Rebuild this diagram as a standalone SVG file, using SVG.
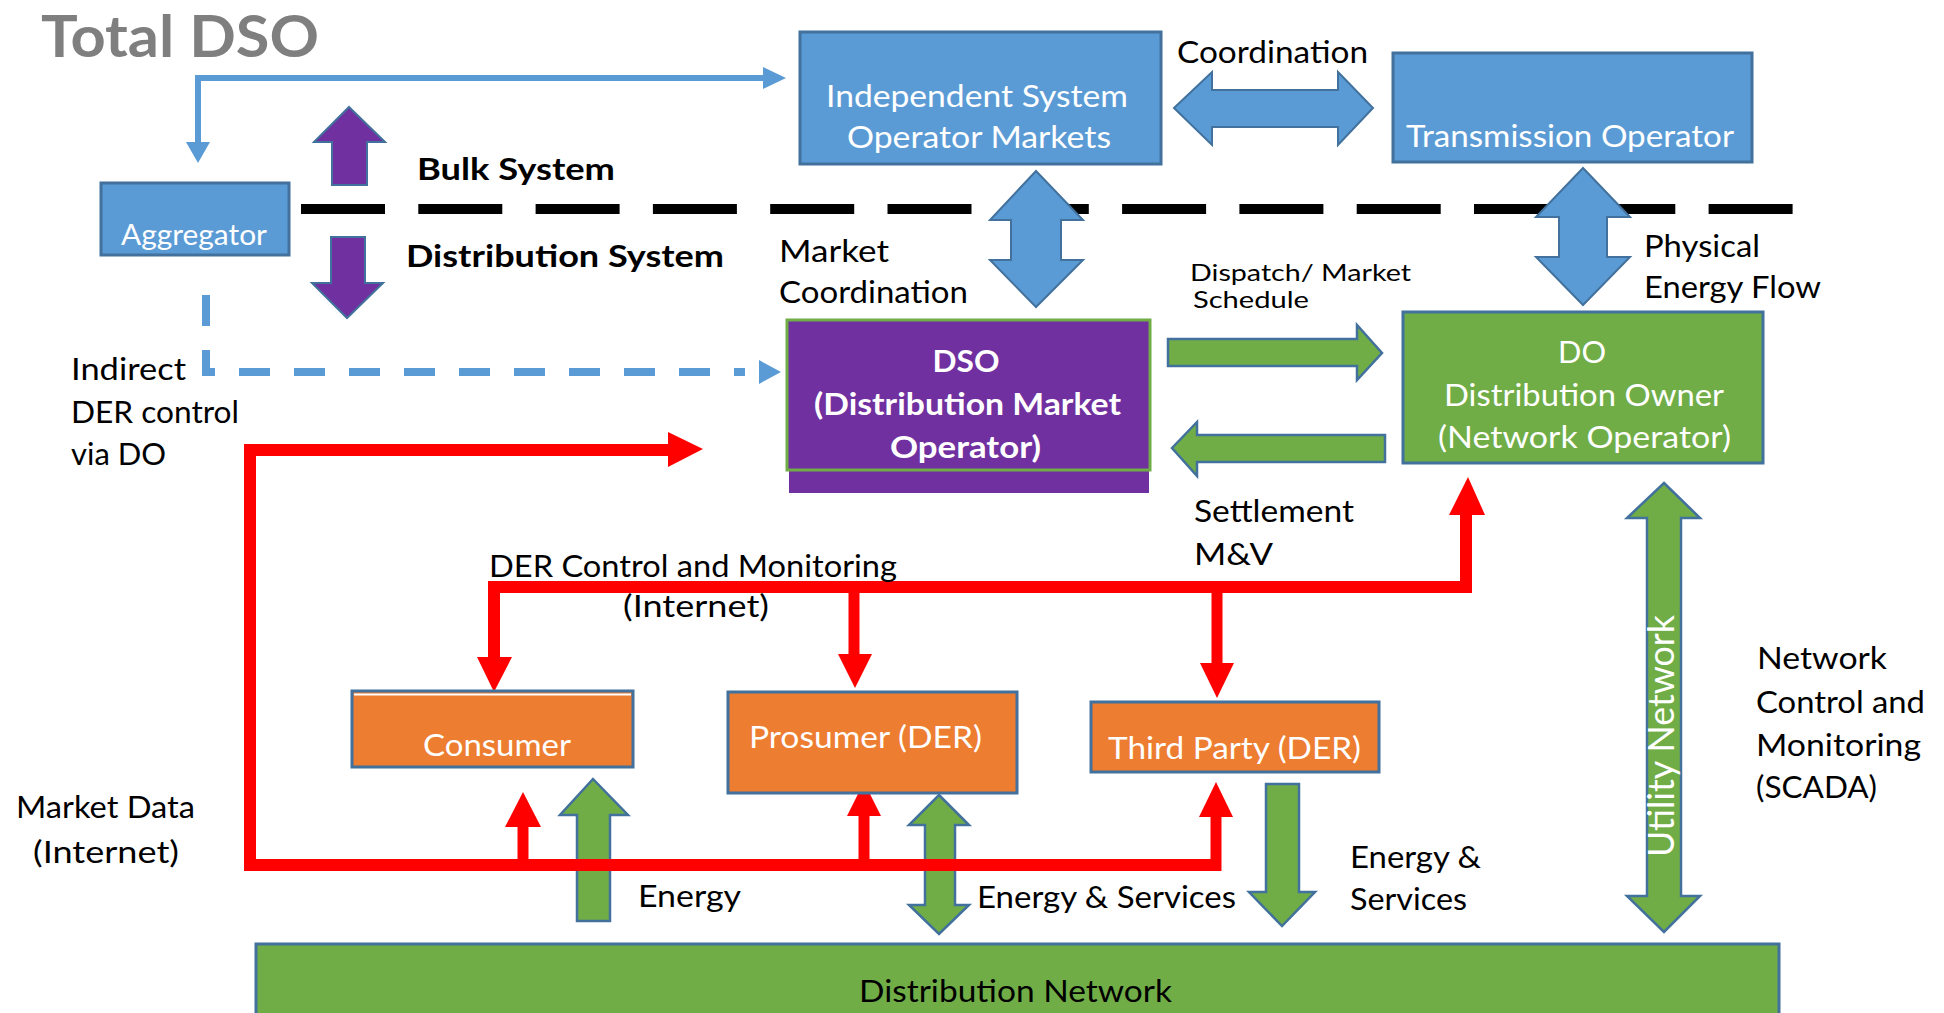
<svg xmlns="http://www.w3.org/2000/svg" width="1944" height="1013" viewBox="0 0 1944 1013">
<style>
text{font-family:Lato,"Liberation Sans",sans-serif;font-size:31px;fill:#000}
.w{fill:#fff}
.b{font-weight:bold}
.s26{font-size:23px}
.bluebox{fill:#5b9bd5;stroke:#41719c;stroke-width:3}
.greenbox{fill:#70ad47;stroke:#41719c;stroke-width:3}
.orangebox{fill:#ed7d31;stroke:#41719c;stroke-width:3}
.barrow{fill:#5b9bd5;stroke:#41719c;stroke-width:2}
.garrow{fill:#70ad47;stroke:#41719c;stroke-width:2.5}
.parrow{fill:#7030a0;stroke:#41719c;stroke-width:2}
.red{fill:none;stroke:#ff0000;stroke-width:12;stroke-linejoin:miter}
.redhead{fill:#ff0000}
</style>
<rect width="1944" height="1013" fill="#fff"/>

<text x="41" y="57" class="b" style="font-size:58px;fill:#7f7f7f" textLength="278" lengthAdjust="spacingAndGlyphs">Total DSO</text>

<!-- bulk/distribution divider -->
<line x1="301" y1="209" x2="1793" y2="209" stroke="#000" stroke-width="10" stroke-dasharray="84 33.3"/>
<text x="417" y="180" class="b" textLength="198" lengthAdjust="spacingAndGlyphs">Bulk System</text>
<text x="406" y="267" class="b" textLength="318" lengthAdjust="spacingAndGlyphs">Distribution System</text>

<g id="connectors">
  <!-- blue L arrow ISO -> Aggregator -->
  <polyline points="198,142 198,78 763,78" fill="none" stroke="#5b9bd5" stroke-width="6"/>
  <polygon points="186,142 210,142 198,163" fill="#5b9bd5"/>
  <polygon points="763,67 763,89 786,78" fill="#5b9bd5"/>
  <!-- dashed indirect DER control -->
  <path d="M206,295 V372 H745" fill="none" stroke="#5b9bd5" stroke-width="8" stroke-dasharray="31 24"/>
  <polygon points="759,360 759,384 781,372" fill="#5b9bd5"/>
  <!-- purple arrows -->
  <polygon class="parrow" points="349,107 385,142 367,142 367,185 332,185 332,142 314,142"/>
  <polygon class="parrow" points="331,237 365,237 365,283 383,283 347,318 312,283 331,283"/>
  <!-- coordination double arrow -->
  <polygon class="barrow" points="1174,108 1212,72 1212,90 1338,90 1338,72 1373,108 1338,145 1338,127 1212,127 1212,145"/>
  <!-- ISO <-> DSO -->
  <polygon class="barrow" points="1036,171 1083,220 1061,220 1061,260 1083,260 1036,307 990,260 1011,260 1011,220 990,220"/>
  <!-- TO <-> DO -->
  <polygon class="barrow" points="1583,168 1630,217 1607,217 1607,257 1630,257 1583,305 1536,257 1559,257 1559,217 1536,217"/>
  <!-- dispatch / settlement -->
  <polygon class="garrow" points="1168,339 1357,339 1357,325 1382,353 1357,380 1357,366 1168,366"/>
  <polygon class="garrow" points="1172,448 1197,422 1197,435 1385,435 1385,462 1197,462 1197,476"/>
  <!-- utility network double arrow -->
  <polygon class="garrow" points="1664,483 1700,518 1681,518 1681,896 1700,896 1664,932 1627,896 1647,896 1647,518 1627,518"/>
  <text transform="translate(1674,857) rotate(-90)" class="w" style="font-size:36px" textLength="242" lengthAdjust="spacingAndGlyphs">Utility Network</text>
  <!-- energy arrows -->
  <polygon class="garrow" points="593,779 628,815 610,815 610,921 577,921 577,815 560,815"/>
  <polygon class="garrow" points="939,795 969,825 955,825 955,905 969,905 939,934 909,905 925,905 925,825 909,825"/>
  <polygon class="garrow" points="1266,784 1299,784 1299,892 1315,892 1282,926 1249,892 1266,892"/>
  <!-- red market data -->
  <path class="red" d="M1216,865 H250 V450 H670"/>
  <polygon class="redhead" points="668,432 668,467 703,449"/>
  <path class="red" style="stroke-width:11" d="M523,865 V825"/>
  <polygon class="redhead" points="505,827 541,827 523,792"/>
  <path class="red" style="stroke-width:11" d="M864,865 V814"/>
  <polygon class="redhead" points="847,816 881,816 864,782"/>
  <path class="red" style="stroke-width:11" d="M1216,871 V815"/>
  <polygon class="redhead" points="1199,817 1233,817 1216,782"/>
  <!-- red DER control and monitoring -->
  <path class="red" d="M494,659 V587 H1466 V513"/>
  <polygon class="redhead" points="1449,515 1485,515 1468,477"/>
  <path class="red" style="stroke-width:11" d="M854,587 V656"/>
  <polygon class="redhead" points="838,654 872,654 855,688"/>
  <path class="red" style="stroke-width:11" d="M1217,587 V665"/>
  <polygon class="redhead" points="1200,663 1234,663 1217,698"/>
  <polygon class="redhead" points="477,657 512,657 494,692"/>
</g>

<g id="aggregator">
  <rect class="bluebox" x="101" y="183" width="188" height="72"/>
  <text x="121" y="245" class="w" style="font-size:28px" textLength="146" lengthAdjust="spacingAndGlyphs">Aggregator</text>
</g>

<g id="iso">
  <rect class="bluebox" x="800" y="32" width="361" height="132"/>
  <text x="826" y="107" class="w" textLength="302" lengthAdjust="spacingAndGlyphs">Independent System</text>
  <text x="847" y="148" class="w" textLength="264" lengthAdjust="spacingAndGlyphs">Operator Markets</text>
</g>

<g id="transmission-operator">
  <rect class="bluebox" x="1393" y="53" width="359" height="109"/>
  <text x="1406" y="147" class="w" textLength="328" lengthAdjust="spacingAndGlyphs">Transmission Operator</text>
</g>

<g id="dso">
  <rect x="789" y="320" width="360" height="173" fill="#7030a0"/>
  <rect x="787" y="320" width="363" height="150" fill="#7030a0" stroke="#70ad47" stroke-width="3"/>
  <text x="966" y="372" class="w b" text-anchor="middle" textLength="67" lengthAdjust="spacingAndGlyphs">DSO</text>
  <text x="814" y="415" class="w b" textLength="307" lengthAdjust="spacingAndGlyphs">(Distribution Market</text>
  <text x="890" y="458" class="w b" textLength="151" lengthAdjust="spacingAndGlyphs">Operator)</text>
</g>

<g id="do">
  <rect class="greenbox" x="1403" y="312" width="360" height="151"/>
  <text x="1582" y="363" class="w" text-anchor="middle" textLength="48" lengthAdjust="spacingAndGlyphs">DO</text>
  <text x="1444" y="406" class="w" textLength="280" lengthAdjust="spacingAndGlyphs">Distribution Owner</text>
  <text x="1438" y="448" class="w" textLength="293" lengthAdjust="spacingAndGlyphs">(Network Operator)</text>
</g>

<g id="consumer">
  <rect class="orangebox" x="352" y="691" width="281" height="76"/>
  <line x1="354" y1="694.5" x2="631" y2="694.5" stroke="#fff" stroke-width="2"/>
  <text x="423" y="756" class="w" textLength="148" lengthAdjust="spacingAndGlyphs">Consumer</text>
</g>

<g id="prosumer">
  <rect class="orangebox" x="728" y="692" width="289" height="101"/>
  <text x="749" y="748" class="w" textLength="233" lengthAdjust="spacingAndGlyphs">Prosumer (DER)</text>
</g>

<g id="third-party">
  <rect class="orangebox" x="1091" y="702" width="288" height="70"/>
  <text x="1108" y="759" class="w" textLength="253" lengthAdjust="spacingAndGlyphs">Third Party (DER)</text>
</g>

<g id="distribution-network">
  <rect class="greenbox" x="256" y="944" width="1523" height="80"/>
  <text x="859" y="1002" textLength="313" lengthAdjust="spacingAndGlyphs">Distribution Network</text>
</g>

<g id="labels">
  <text x="1177" y="63" textLength="191" lengthAdjust="spacingAndGlyphs">Coordination</text>
  <text x="779" y="262" textLength="110" lengthAdjust="spacingAndGlyphs">Market</text>
  <text x="779" y="303" textLength="189" lengthAdjust="spacingAndGlyphs">Coordination</text>
  <text x="1190" y="281" class="s26" textLength="221" lengthAdjust="spacingAndGlyphs">Dispatch/ Market</text>
  <text x="1193" y="308" class="s26" textLength="116" lengthAdjust="spacingAndGlyphs">Schedule</text>
  <text x="1644" y="257" textLength="116" lengthAdjust="spacingAndGlyphs">Physical</text>
  <text x="1644" y="298" textLength="177" lengthAdjust="spacingAndGlyphs">Energy Flow</text>
  <text x="1194" y="522" textLength="160" lengthAdjust="spacingAndGlyphs">Settlement</text>
  <text x="1194" y="565" textLength="79" lengthAdjust="spacingAndGlyphs">M&amp;V</text>
  <text x="71" y="380" textLength="115" lengthAdjust="spacingAndGlyphs">Indirect</text>
  <text x="71" y="423" textLength="168" lengthAdjust="spacingAndGlyphs">DER control</text>
  <text x="71" y="465" textLength="95" lengthAdjust="spacingAndGlyphs">via DO</text>
  <text x="489" y="577" textLength="408" lengthAdjust="spacingAndGlyphs">DER Control and Monitoring</text>
  <text x="623" y="617" textLength="146" lengthAdjust="spacingAndGlyphs">(Internet)</text>
  <text x="16" y="818" textLength="179" lengthAdjust="spacingAndGlyphs">Market Data</text>
  <text x="33" y="863" textLength="146" lengthAdjust="spacingAndGlyphs">(Internet)</text>
  <text x="638" y="907" textLength="103" lengthAdjust="spacingAndGlyphs">Energy</text>
  <text x="977" y="908" textLength="259" lengthAdjust="spacingAndGlyphs">Energy &amp; Services</text>
  <text x="1350" y="868" textLength="131" lengthAdjust="spacingAndGlyphs">Energy &amp;</text>
  <text x="1350" y="910" textLength="117" lengthAdjust="spacingAndGlyphs">Services</text>
  <text x="1757" y="669" textLength="130" lengthAdjust="spacingAndGlyphs">Network</text>
  <text x="1756" y="713" textLength="169" lengthAdjust="spacingAndGlyphs">Control and</text>
  <text x="1756" y="756" textLength="165" lengthAdjust="spacingAndGlyphs">Monitoring</text>
  <text x="1756" y="798" textLength="121" lengthAdjust="spacingAndGlyphs">(SCADA)</text>
</g>
</svg>
